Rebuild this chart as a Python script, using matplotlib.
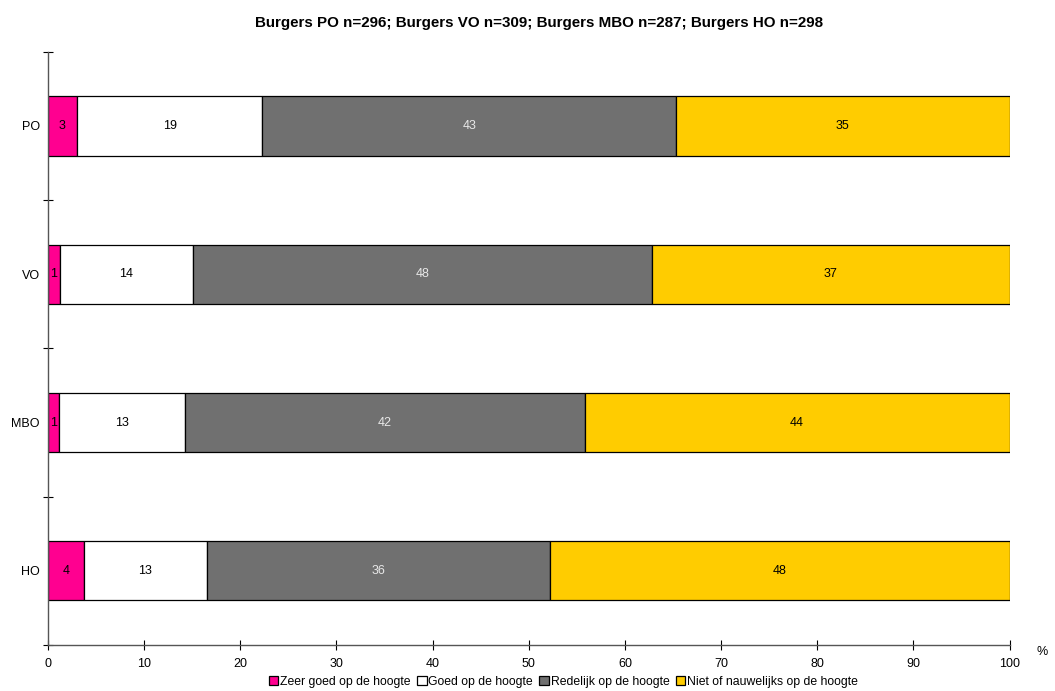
import matplotlib
matplotlib.use("Agg")
import matplotlib.pyplot as plt
import numpy as np
from matplotlib.ticker import FixedLocator

plt.rcParams['font.family'] = ['Liberation Sans', 'DejaVu Sans']

categories = ["PO", "VO", "MBO", "HO"]
series_names = ["Zeer goed op de hoogte", "Goed op de hoogte",
                "Redelijk op de hoogte", "Niet of nauwelijks op de hoogte"]
zeer_goed = [3.0, 1.2, 1.1, 3.7]
goed = [19.3, 13.9, 13.1, 12.8]
redelijk = [43.0, 47.7, 41.6, 35.7]
niet = [34.7, 37.2, 44.2, 47.8]
labels = [[3, 1, 1, 4], [19, 14, 13, 13], [43, 48, 42, 36], [35, 37, 44, 48]]
colors = ["#FF0090", "#FFFFFF", "#707070", "#FFCC00"]
text_colors = ["black", "black", "#E8E8E8", "black"]
title = "Burgers PO n=296; Burgers VO n=309; Burgers MBO n=287; Burgers HO n=298"
xticks = [0, 10, 20, 30, 40, 50, 60, 70, 80, 90, 100]

fig = plt.figure(figsize=(10.55, 6.91), dpi=100)
ax = fig.add_axes([0.0455, 0.0666, 0.9115, 0.8585])

series = [zeer_goed, goed, redelijk, niet]
y = np.arange(len(categories))
left = np.zeros(len(categories))
handles = []
for vals, col, tc, lab, name in zip(series, colors, text_colors, labels, series_names):
    vals = np.array(vals)
    b = ax.barh(y, vals, left=left, height=0.4, color=col, edgecolor="black",
                linewidth=0.9, label=name)
    handles.append(b)
    for yi, (l, v, t) in enumerate(zip(left, vals, lab)):
        ax.text(l + v / 2, yi, str(t), ha="center", va="center", fontsize=9, color=tc)
    left = left + vals

ax.set_xlim(0, 100)
ax.set_ylim(len(categories) - 0.5, -0.5)
ax.set_yticks(y)
ax.set_yticklabels(categories, fontsize=9)
ax.yaxis.set_minor_locator(FixedLocator(np.arange(-0.5, len(categories) + 0.5, 1)))
ax.tick_params(axis="y", which="major", length=0, pad=6)
ax.tick_params(axis="y", which="minor", length=7, direction="inout", width=0.8)
ax.set_xticks(xticks)
ax.set_xticklabels([str(t) for t in xticks], fontsize=9)
ax.tick_params(axis="x", which="major", length=7, direction="inout", width=0.8, pad=6)
for s in ["top", "right"]:
    ax.spines[s].set_visible(False)
for s in ["left", "bottom"]:
    ax.spines[s].set_color("#555555")
    ax.spines[s].set_linewidth(1.0)

fig.text(0.511, 0.967, title, ha="center", va="center", fontsize=10.9, fontweight="bold")
fig.text(0.993, 0.056, "%", ha="right", va="center", fontsize=9)

leg = fig.legend(handles=handles, loc="center", bbox_to_anchor=(0.534, 0.013), ncol=4,
                 frameon=False, fontsize=8.8, handlelength=0.8, handleheight=0.8,
                 handletextpad=0.15, columnspacing=0.5, borderaxespad=0)

fig.savefig("out.png", dpi=100)
